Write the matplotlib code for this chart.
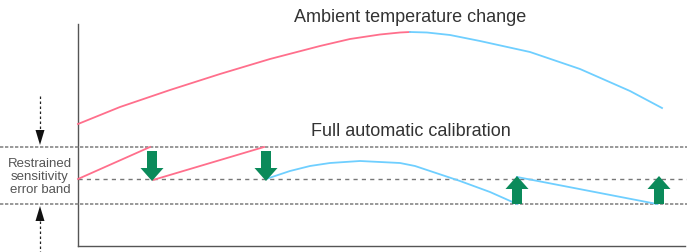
import matplotlib.pyplot as plt
from matplotlib.patches import FancyArrow

# Kurve der Umgebungstemperatur (Pixelkoordinaten der Vorlage)
ambient_x_rise = [78, 120, 170, 220, 270, 320, 350, 380, 400, 410]
ambient_y_rise = [125, 108, 91, 75, 60, 47, 40, 35.5, 33.5, 33]
ambient_x_fall = [410, 427, 450, 480, 530, 580, 630, 662]
ambient_y_fall = [33, 33.5, 36, 42, 53, 70, 92, 109]

# Kalibrierungsverlauf
cal_red_x = [[78, 150], [153, 264]]
cal_red_y = [[180, 148], [181, 148]]
cal_blue_x = [266, 290, 310, 330, 360, 400, 415, 430, 445, 460, 490, 517]
cal_blue_y = [180, 172, 167, 164, 162, 164, 167, 172, 177, 182, 193, 205]
cal_blue2_x = [517, 657]
cal_blue2_y = [178, 205]

# Pfeile: x, Start-y, End-y
arrows_down = [(152, 152, 182), (266, 152, 182)]
arrows_up = [(517, 205, 177), (659, 205, 177)]

band_top = 148
band_mid = 180
band_bot = 205

title_top = "Ambient temperature change"
title_mid = "Full automatic calibration"
band_label = "Restrained\nsensitivity\nerror band"

RED = '#ff6f8c'
BLUE = '#6fcfff'
GREEN = '#0b8a5a'
GRAY = '#555555'

plt.rcParams['font.family'] = ['Liberation Sans', 'DejaVu Sans']

fig = plt.figure(figsize=(6.87, 2.53), dpi=100)
ax = fig.add_axes([0, 0, 1, 1])
ax.set_xlim(0, 687)
ax.set_ylim(253, 0)
ax.axis('off')

# Achsen
ax.plot([78, 78], [25, 247], color=GRAY, lw=1.0)
ax.plot([78, 685], [247, 247], color=GRAY, lw=1.0)

# Band-Linien
ax.plot([0, 687], [band_top, band_top], color='#888888', lw=1.2, ls=(0, (2, 1)))
ax.plot([0, 687], [band_bot, band_bot], color='#888888', lw=1.2, ls=(0, (2, 1)))
ax.plot([78, 687], [band_mid, band_mid], color='#777777', lw=1.0, ls=(0, (3, 3)))

# Kurven
ax.plot(ambient_x_rise, ambient_y_rise, color=RED, lw=1.3)
ax.plot(ambient_x_fall, ambient_y_fall, color=BLUE, lw=1.3)
for xs, ys in zip(cal_red_x, cal_red_y):
    ax.plot(xs, ys, color=RED, lw=1.3)
ax.plot(cal_blue_x, cal_blue_y, color=BLUE, lw=1.3)
ax.plot(cal_blue2_x, cal_blue2_y, color=BLUE, lw=1.3)

# grüne Pfeile
for x, y0, y1 in arrows_down + arrows_up:
    ax.add_patch(FancyArrow(x, y0, 0, y1 - y0, width=10, head_width=23,
                            head_length=13, length_includes_head=True,
                            color=GREEN, lw=0, zorder=5))

# linke Maßpfeile: gestrichelter Schaft + gefüllte Spitze
ax.plot([40, 40], [97, 132], color='#222222', lw=0.9, ls=(0, (2, 2)))
ax.add_patch(FancyArrow(40, 130, 0, 16, width=0.1, head_width=9, head_length=15,
                        length_includes_head=True, color='#111111', lw=0))
ax.plot([40, 40], [222, 253], color='#222222', lw=0.9, ls=(0, (2, 2)))
ax.add_patch(FancyArrow(40, 223, 0, -16, width=0.1, head_width=9, head_length=15,
                        length_includes_head=True, color='#111111', lw=0))

# Texte
ax.text(410, 17, title_top, ha='center', va='center', fontsize=13, color='#333333')
ax.text(411, 131, title_mid, ha='center', va='center', fontsize=13, color='#333333')
ax.text(40, 177, band_label, ha='center', va='center', fontsize=9.5,
        color='#555555', linespacing=1.1)

fig.savefig('out.png', dpi=100)
